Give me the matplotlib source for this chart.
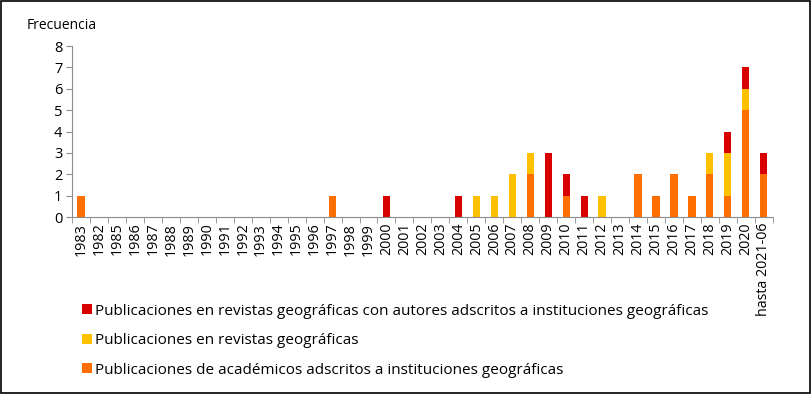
import matplotlib.pyplot as plt
from matplotlib.patches import Rectangle
import numpy as np

plt.rcParams["font.family"] = ["Open Sans", "DejaVu Sans"]

# Data
years = ["1983", "1982"] + [str(y) for y in range(1985, 2021)] + ["hasta 2021-06"]
academicos = {"1983": 1, "1997": 1, "2008": 2, "2010": 1, "2014": 2, "2015": 1,
              "2016": 2, "2017": 1, "2018": 2, "2019": 1, "2020": 5, "hasta 2021-06": 2}
revistas = {"2005": 1, "2006": 1, "2007": 2, "2008": 1, "2012": 1, "2018": 1,
            "2019": 2, "2020": 1}
revistas_autores = {"2000": 1, "2004": 1, "2009": 3, "2010": 1, "2011": 1, "2019": 1,
                    "2020": 1, "hasta 2021-06": 1}

acad = np.array([academicos.get(y, 0) for y in years])
rev = np.array([revistas.get(y, 0) for y in years])
rev_aut = np.array([revistas_autores.get(y, 0) for y in years])

c_red = "#d90000"
c_yellow = "#ffc000"
c_orange = "#ff6e00"
axis_col = "#8c8c8c"

fig = plt.figure(figsize=(8.12, 3.94), dpi=100)
ax = fig.add_axes([0.0887, 0.449, 0.863, 0.434])

x = np.arange(len(years))
w = 0.4
ax.bar(x, acad, w, color=c_orange, label="Publicaciones de académicos adscritos a instituciones geográficas")
ax.bar(x, rev, w, bottom=acad, color=c_yellow, label="Publicaciones en revistas geográficas")
ax.bar(x, rev_aut, w, bottom=acad + rev, color=c_red,
       label="Publicaciones en revistas geográficas con autores adscritos a instituciones geográficas")

ax.set_xlim(-0.5, len(years) - 0.5)
ax.set_ylim(0, 8)
ax.set_yticks(range(0, 9))
ax.set_xticks(x)
ax.set_xticklabels(years, rotation=90, fontsize=10.3)
ax.set_xticks(np.arange(-0.5, len(years), 1), minor=True)
ax.tick_params(axis="x", which="major", length=0, pad=4)
ax.tick_params(axis="x", which="minor", length=4, color=axis_col, direction="out")
ax.tick_params(axis="y", length=4, color=axis_col, labelsize=10.5, pad=3)

for side in ["top", "right"]:
    ax.spines[side].set_visible(False)
for side in ["left", "bottom"]:
    ax.spines[side].set_color(axis_col)

fig.text(0.033, 0.935, "Frecuencia", fontsize=10, va="center", ha="left")

handles, labels = ax.get_legend_handles_labels()
fig.legend(handles[::-1], labels[::-1], loc="upper left", bbox_to_anchor=(0.094, 0.245),
           frameon=False, fontsize=11, handlelength=0.6, handleheight=0.6,
           handletextpad=0.25, labelspacing=0.95, borderaxespad=0)

fig.patches.append(Rectangle((0.001, 0.002), 0.997, 0.995, transform=fig.transFigure,
                             fill=False, edgecolor="black", linewidth=1.2))

fig.savefig("out.png", dpi=100)
